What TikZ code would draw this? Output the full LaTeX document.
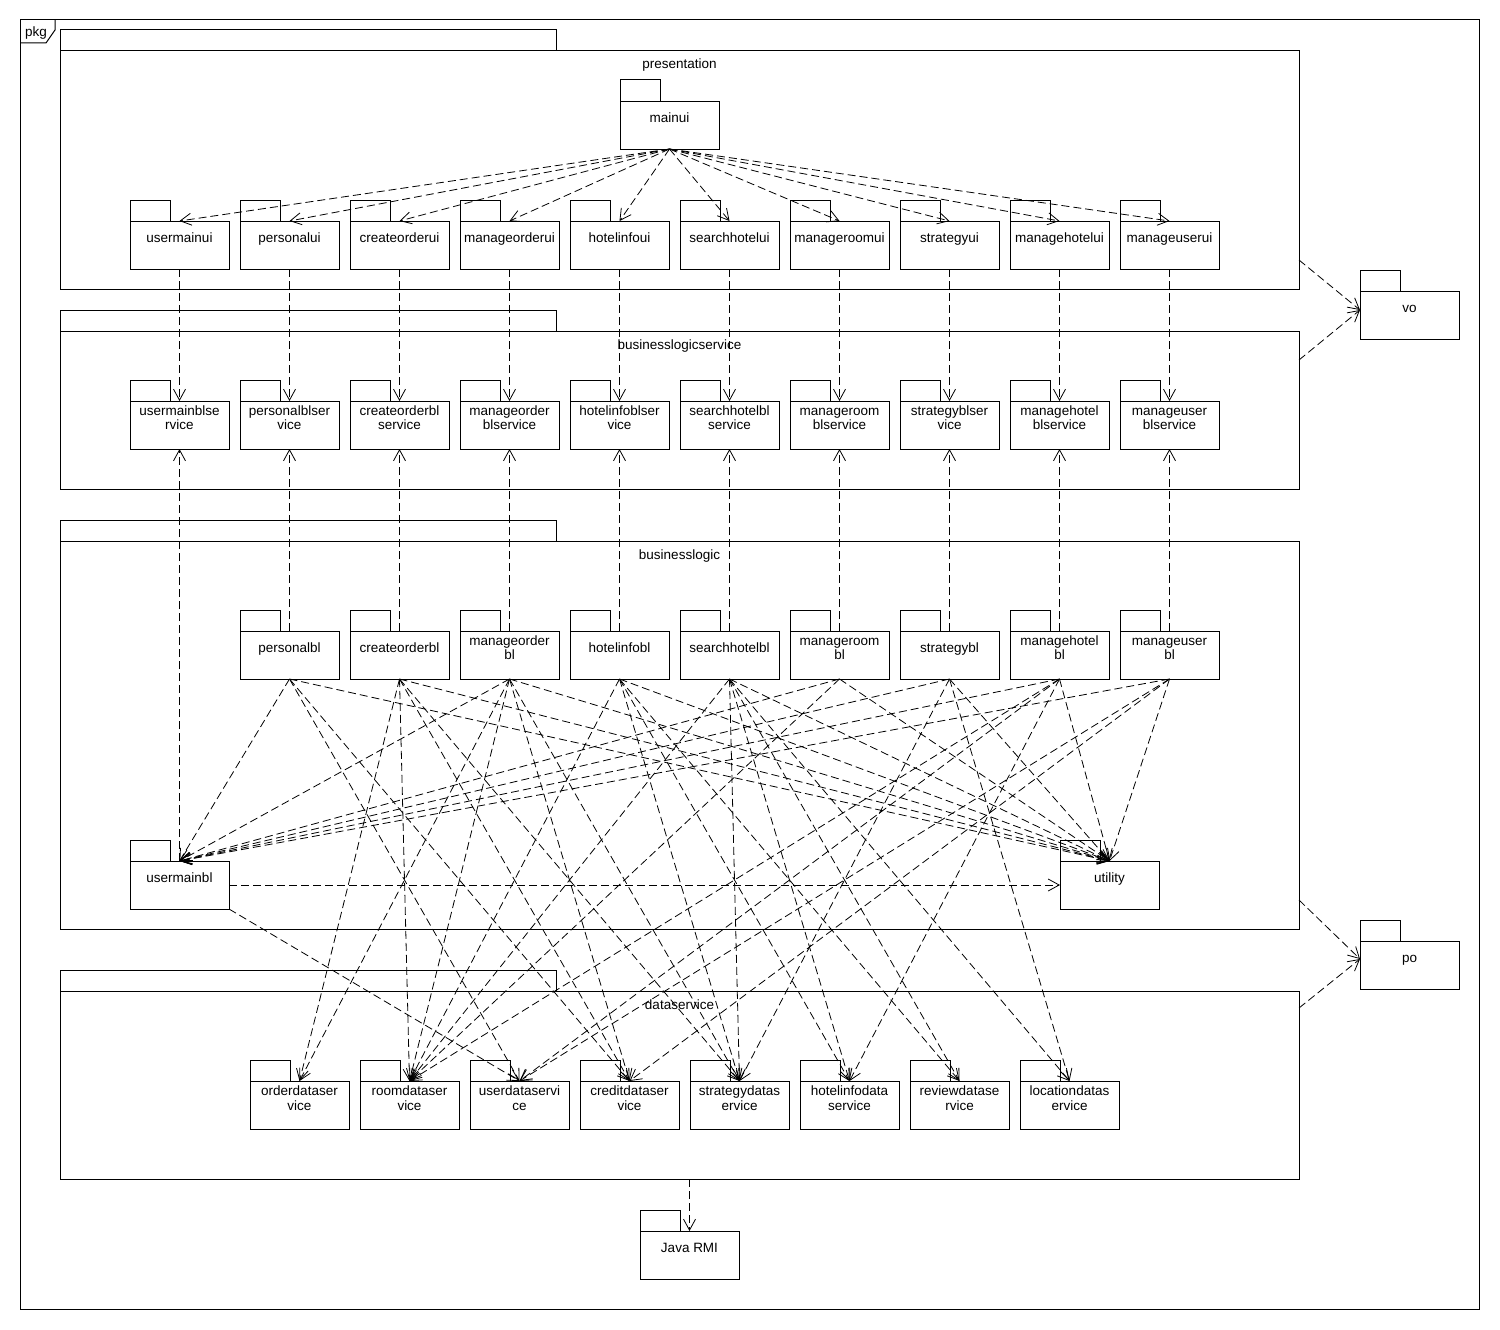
\documentclass[tikz,border=0pt]{standalone}
\usepackage{fontspec}
\setmainfont{Liberation Sans}
\usetikzlibrary{arrows.meta,calc}
\newcommand\pkgfont{\fontsize{13.5pt}{14.7pt}\selectfont}
% package body text: block centred in the upper part of the body
\newcommand\pkgtext[1]{\parbox[c][48pt][t]{99pt}{\parbox[c][37.4pt][c]{99pt}{\centering\strut#1\strut}}}
\begin{document}
\begin{tikzpicture}[x=1pt,y=-1pt,
  pkg/.style={draw, line width=1pt, inner sep=0pt, outer sep=0pt,
    minimum width=99pt, minimum height=48pt, anchor=north west, font=\pkgfont},
  layer/.style={draw, line width=1pt, inner sep=0pt, outer sep=0pt,
    anchor=north west, minimum width=1239pt},
  title/.style={anchor=base, font=\pkgfont, inner sep=0pt},
  dep/.style={draw, line width=0.8pt, dash pattern=on 8pt off 4pt,
    -{Straight Barb[length=11pt,width=12pt]}}]

\fill[white] (0,0) rectangle (1500,1330);
\useasboundingbox (0,0) rectangle (1500,1330);

% outer frame with its name tab
\draw[line width=1pt] (20,20) rectangle (1479,1309);
\draw[line width=1pt] (20,43) -- (46,43) -- (55,30) -- (55,20);
\node[anchor=base west, inner sep=0pt, font=\pkgfont] (pkglabel) at (25,37) {pkg};

% layers
\node[layer, minimum height=238pt] (presentation) at (60,51) {};
\node[layer, minimum height=158pt] (blservice) at (60,331) {};
\node[layer, minimum height=388pt] (businesslogic) at (60,541) {};
\node[layer, minimum height=188pt] (dataservice) at (60,991) {};
\foreach \n in {presentation,blservice,businesslogic,dataservice}
  \draw[line width=1pt] (\n.north west) rectangle ++(496pt,21pt);
\node[title] (presentationtitle) at (679.5,69) {presentation};
\node[title] (blservicetitle) at (679.5,349) {businesslogicservice};
\node[title] (businesslogictitle) at (679.5,559) {businesslogic};
\node[title] (dataservicetitle) at (679.5,1009) {dataservice};

% packages
\node[pkg] (mainui) at (620,101) {\pkgtext{mainui}};
\foreach \nm/\tx [count=\i from 0] in {usermainui/usermainui, personalui/personalui,
    createorderui/createorderui, manageorderui/manageorderui, hotelinfoui/hotelinfoui,
    searchhotelui/searchhotelui, manageroomui/manageroomui, strategyui/strategyui,
    managehotelui/managehotelui, manageuserui/manageuserui}
  \node[pkg] (\nm) at ({130+110*\i},221) {\pkgtext{\tx}};
\foreach \nm/\tx [count=\i from 0] in {usermainbls/usermainblse\\rvice,
    personalbls/personalblser\\vice, createorderbls/createorderbl\\service,
    manageorderbls/manageorder\\blservice, hotelinfobls/hotelinfoblser\\vice,
    searchhotelbls/searchhotelbl\\service, manageroombls/manageroom\\blservice,
    strategybls/strategyblser\\vice, managehotelbls/managehotel\\blservice,
    manageuserbls/manageuser\\blservice}
  \node[pkg] (\nm) at ({130+110*\i},401) {\pkgtext{\tx}};
\foreach \nm/\tx [count=\i from 0] in {personalbl/personalbl, createorderbl/createorderbl,
    manageorderbl/manageorder\\bl, hotelinfobl/hotelinfobl, searchhotelbl/searchhotelbl,
    manageroombl/manageroom\\bl, strategybl/strategybl, managehotelbl/managehotel\\bl,
    manageuserbl/manageuser\\bl}
  \node[pkg] (\nm) at ({240+110*\i},631) {\pkgtext{\tx}};
\node[pkg] (usermainbl) at (130,861) {\pkgtext{usermainbl}};
\node[pkg] (utility) at (1060,861) {\pkgtext{utility}};
\foreach \nm/\tx [count=\i from 0] in {orderds/orderdataser\\vice, roomds/roomdataser\\vice,
    userds/userdataservi\\ce, creditds/creditdataser\\vice, strategyds/strategydatas\\ervice,
    hotelinfods/hotelinfodata\\service, reviewds/reviewdatase\\rvice,
    locationds/locationdatas\\ervice}
  \node[pkg] (\nm) at ({250+110*\i},1081) {\pkgtext{\tx}};
\node[pkg] (vo) at (1360,291) {\pkgtext{vo}};
\node[pkg] (po) at (1360,941) {\pkgtext{po}};
\node[pkg] (javarmi) at (640,1231) {\pkgtext{Java RMI}};

% package tabs
\foreach \n in {mainui,usermainui,personalui,createorderui,manageorderui,hotelinfoui,
    searchhotelui,manageroomui,strategyui,managehotelui,manageuserui,
    usermainbls,personalbls,createorderbls,manageorderbls,hotelinfobls,searchhotelbls,
    manageroombls,strategybls,managehotelbls,manageuserbls,
    personalbl,createorderbl,manageorderbl,hotelinfobl,searchhotelbl,manageroombl,
    strategybl,managehotelbl,manageuserbl,usermainbl,utility,
    orderds,roomds,userds,creditds,strategyds,hotelinfods,reviewds,locationds,
    vo,po,javarmi}
  \draw[line width=1pt] (\n.north west) rectangle ++(40pt,21pt);

% presentation dependencies
\foreach \t in {usermainui,personalui,createorderui,manageorderui,hotelinfoui,
    searchhotelui,manageroomui,strategyui,managehotelui,manageuserui}
  \draw[dep] (mainui.south) -- (\t.north);
\foreach \a/\b in {usermainui/usermainbls, personalui/personalbls,
    createorderui/createorderbls, manageorderui/manageorderbls, hotelinfoui/hotelinfobls,
    searchhotelui/searchhotelbls, manageroomui/manageroombls, strategyui/strategybls,
    managehotelui/managehotelbls, manageuserui/manageuserbls}
  \draw[dep] (\a.south) -- (\b.north);

% business logic implements its services
\foreach \a/\b in {usermainbl/usermainbls, personalbl/personalbls,
    createorderbl/createorderbls, manageorderbl/manageorderbls, hotelinfobl/hotelinfobls,
    searchhotelbl/searchhotelbls, manageroombl/manageroombls, strategybl/strategybls,
    managehotelbl/managehotelbls, manageuserbl/manageuserbls}
  \draw[dep] (\a.north) -- (\b.south);

% business logic internal dependencies
\foreach \a in {personalbl,manageorderbl,manageroombl,strategybl,managehotelbl,manageuserbl}
  \draw[dep] (\a.south) -- (usermainbl.north);
\foreach \a in {personalbl,createorderbl,manageorderbl,hotelinfobl,searchhotelbl,
    manageroombl,strategybl,managehotelbl,manageuserbl}
  \draw[dep] (\a.south) -- (utility.north);
\draw[dep] (usermainbl.east) -- (utility.west);
\draw[dep] (usermainbl.south east) -- (userds.north);

% business logic to data services
\foreach \a/\b in {personalbl/userds, personalbl/creditds,
    createorderbl/orderds, createorderbl/roomds, createorderbl/creditds, createorderbl/strategyds,
    manageorderbl/orderds, manageorderbl/roomds, manageorderbl/creditds, manageorderbl/strategyds,
    hotelinfobl/roomds, hotelinfobl/strategyds, hotelinfobl/hotelinfods, hotelinfobl/reviewds,
    searchhotelbl/roomds, searchhotelbl/strategyds, searchhotelbl/hotelinfods,
    searchhotelbl/reviewds, searchhotelbl/locationds,
    manageroombl/roomds,
    strategybl/strategyds, strategybl/locationds,
    managehotelbl/roomds, managehotelbl/userds, managehotelbl/hotelinfods,
    manageuserbl/userds, manageuserbl/creditds}
  \draw[dep] (\a.south) -- (\b.north);

% layer dependencies
\draw[dep] ([yshift=29pt]presentation.south east) -- ([yshift=5pt]vo.west);
\draw[dep] ([yshift=-29pt]blservice.north east) -- ([yshift=5pt]vo.west);
\draw[dep] ([yshift=29pt]businesslogic.south east) -- ([yshift=6pt]po.west);
\draw[dep] ([yshift=-17pt]dataservice.north east) -- ([yshift=6pt]po.west);
\draw[dep] (javarmi.north |- dataservice.south) -- (javarmi.north);
\end{tikzpicture}
\end{document}
